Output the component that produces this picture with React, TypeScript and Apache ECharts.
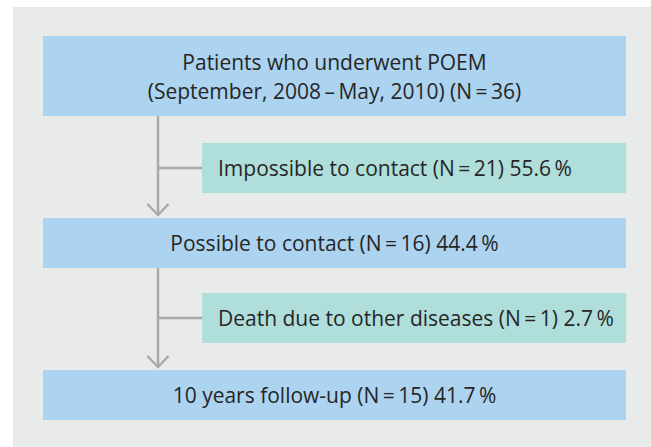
import React, { useEffect, useRef } from "react";
import * as echarts from "echarts";

// Flowchart content
const mainBoxLabels: string[] = [
  "Patients who underwent POEM\n(September, 2008\u2009–\u2009May, 2010) (N\u2009=\u200936)",
  "Possible to contact (N\u2009=\u200916) 44.4\u2009%",
  "10 years follow-up (N\u2009=\u200915) 41.7\u2009%",
];
const sideBoxLabels: string[] = [
  "Impossible to contact (N\u2009=\u200921) 55.6\u2009%",
  "Death due to other diseases (N\u2009=\u20091) 2.7\u2009%",
];

// Layout (pixels)
const W = 651;
const H = 447;
const PANEL = { x: 13, y: 7, w: W - 13, h: H - 7 };
const BOX_LEFT = 43;
const BOX_RIGHT = 626;
const SIDE_LEFT = 202;
const mainBoxY: [number, number][] = [
  [36, 116],
  [218, 268],
  [370, 420],
];
const sideBoxY: [number, number][] = [
  [143, 193],
  [293, 343],
];
const LINE_X = 158;

const COLORS = {
  panel: "#e9ebea",
  main: "#acd3ef",
  side: "#b0dedb",
  line: "#a8a9a9",
  text: "#262626",
};
const FONT = "'Open Sans', 'Noto Sans', sans-serif";
const FONT_SIZE = 21;

export default function App() {
  const ref = useRef<HTMLDivElement>(null);
  useEffect(() => {
    if (!ref.current) return;
    const chart = echarts.init(ref.current, null, { renderer: "svg" });
    const elements: any[] = [];
    elements.push({
      type: "rect",
      shape: { x: PANEL.x, y: PANEL.y, width: PANEL.w, height: PANEL.h },
      style: { fill: COLORS.panel },
    });
    mainBoxLabels.forEach((label, i) => {
      const [y0, y1] = mainBoxY[i];
      elements.push({
        type: "rect",
        shape: { x: BOX_LEFT, y: y0, width: BOX_RIGHT - BOX_LEFT, height: y1 - y0 },
        style: { fill: COLORS.main },
      });
      elements.push({
        type: "text",
        x: (BOX_LEFT + BOX_RIGHT) / 2,
        y: (y0 + y1) / 2,
        style: {
          text: label,
          fill: COLORS.text,
          font: `${FONT_SIZE}px ${FONT}`,
          align: "center",
          verticalAlign: "middle",
          lineHeight: 29,
        },
      });
    });
    sideBoxLabels.forEach((label, i) => {
      const [y0, y1] = sideBoxY[i];
      elements.push({
        type: "rect",
        shape: { x: SIDE_LEFT, y: y0, width: BOX_RIGHT - SIDE_LEFT, height: y1 - y0 },
        style: { fill: COLORS.side },
      });
      elements.push({
        type: "text",
        x: SIDE_LEFT + 16,
        y: (y0 + y1) / 2,
        style: {
          text: label,
          fill: COLORS.text,
          font: `${FONT_SIZE}px ${FONT}`,
          align: "left",
          verticalAlign: "middle",
        },
      });
      // connectors: vertical line from main box above to arrow tip at main box below
      const top = mainBoxY[i][1];
      const tip = mainBoxY[i + 1][0] - 3;
      const cy = (y0 + y1) / 2;
      const lineStyle = { stroke: COLORS.line, lineWidth: 2.5 };
      elements.push({
        type: "line",
        shape: { x1: LINE_X, y1: top, x2: LINE_X, y2: tip },
        style: lineStyle,
      });
      elements.push({
        type: "line",
        shape: { x1: LINE_X, y1: cy, x2: SIDE_LEFT, y2: cy },
        style: lineStyle,
      });
      elements.push({
        type: "polyline",
        shape: {
          points: [
            [LINE_X - 10.5, tip - 11],
            [LINE_X, tip],
            [LINE_X + 10.5, tip - 11],
          ],
        },
        style: { ...lineStyle, fill: null },
      });
    });
    chart.setOption({ animation: false, graphic: { elements } });
    return () => chart.dispose();
  }, []);
  return (
    <div
      ref={ref}
      style={{ position: "absolute", left: 0, top: 0, width: W, height: H, background: "#ffffff" }}
    />
  );
}
